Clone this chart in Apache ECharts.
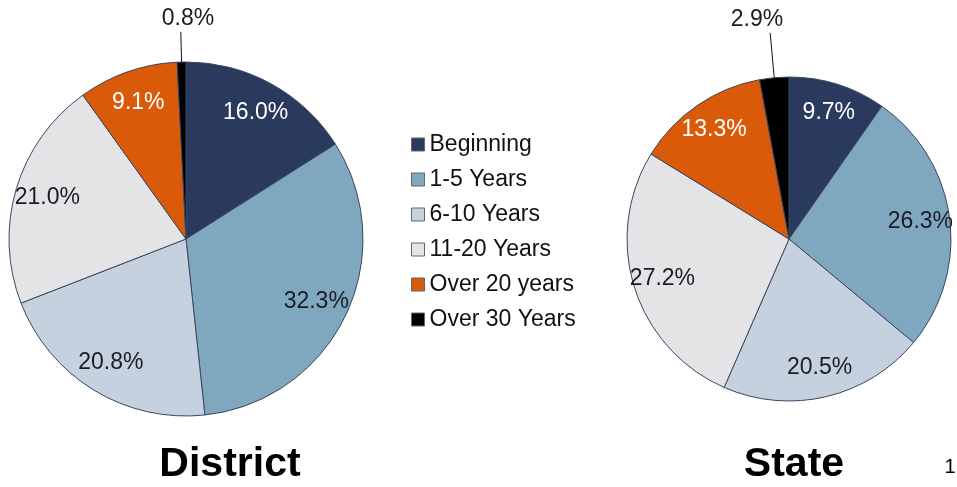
<!DOCTYPE html>
<html>
<head>
<meta charset="utf-8">
<script src="https://cdn.jsdelivr.net/npm/echarts@6/dist/echarts.min.js"></script>
<style>
    html, body { margin: 0; padding: 0; background: #fff; }
    #chart { width: 957px; height: 487px; }
</style>
</head>
<body>
<div id="chart"></div>
<script>
// categories and values
var categories = ['Beginning', '1-5 Years', '6-10 Years', '11-20 Years', 'Over 20 years', 'Over 30 Years'];
var districtValues = [16.0, 32.3, 20.8, 21.0, 9.1, 0.8];
var stateValues = [9.7, 26.3, 20.5, 27.2, 13.3, 2.9];

var colors = ['#2a3a5e', '#7fa8bf', '#c5d1de', '#e4e4e6', '#d95b0a', '#000000'];
var labelColors = ['#ffffff', '#1b1b24', '#1b1b24', '#1b1b24', '#ffffff', '#1b1b24'];
var FONT = '"Liberation Sans", Arial, sans-serif';

function pieData(values) {
    return categories.map(function (name, i) {
        return { name: name, value: values[i] };
    });
}

// visible pie; small slices get their label outside, above a leader line
function pieSeries(values, center, radius, lineLen, textAlign, textDx) {
    return {
        type: 'pie',
        center: center,
        radius: radius,
        startAngle: 90,
        clockwise: true,
        animation: false,
        data: pieData(values).map(function (d) {
            var small = d.value < 5;
            return {
                name: d.name,
                value: d.value,
                label: { show: small },
                labelLine: { show: small }
            };
        }),
        itemStyle: { borderColor: '#3a4660', borderWidth: 1 },
        label: {
            position: 'outside',
            formatter: function (p) { return p.value.toFixed(1) + '%'; },
            color: '#1b1b24',
            fontSize: 23,
            fontFamily: FONT
        },
        labelLine: {
            length: lineLen,
            length2: 0,
            lineStyle: { color: '#111', width: 1 }
        },
        labelLayout: function () {
            return { align: textAlign, verticalAlign: 'bottom', dx: textDx, dy: -2 };
        },
        emphasis: { disabled: true }
    };
}

// transparent ring on top so inside labels sit near the rim
function labelSeries(values, center, radius) {
    return {
        type: 'pie',
        center: center,
        radius: [radius * 0.6, radius],
        startAngle: 90,
        clockwise: true,
        animation: false,
        silent: true,
        data: pieData(values).map(function (d, i) {
            return {
                name: d.name,
                value: d.value,
                label: { show: d.value >= 5, color: labelColors[i] }
            };
        }),
        itemStyle: { color: 'rgba(0,0,0,0)', borderWidth: 0 },
        label: {
            position: 'inside',
            formatter: function (p) { return p.value.toFixed(1) + '%'; },
            fontSize: 23,
            fontFamily: FONT
        },
        labelLine: { show: false },
        emphasis: { disabled: true }
    };
}

var chart = echarts.init(document.getElementById('chart'));
chart.setOption({
    color: colors,
    backgroundColor: '#fff',
    legend: {
        orient: 'vertical',
        left: 406,
        top: 128,
        itemWidth: 13,
        itemHeight: 13,
        itemGap: 12,
        icon: 'rect',
        selectedMode: false,
        data: categories,
        itemStyle: { borderColor: '#666', borderWidth: 1 },
        textStyle: { fontSize: 23, fontFamily: FONT, color: '#111', padding: [0, 0, 0, 0] }
    },
    series: [
        pieSeries(districtValues, [186, 239], 177, 30, 'left', -14),
        labelSeries(districtValues, [186, 239], 177),
        pieSeries(stateValues, [789, 239], 162, 45, 'right', 18),
        labelSeries(stateValues, [789, 239], 162)
    ],
    graphic: [
        { type: 'text', x: 230, y: 465, style: { text: 'District', font: 'bold 41px ' + FONT, fill: '#000', align: 'center', verticalAlign: 'middle' } },
        { type: 'text', x: 794, y: 465, style: { text: 'State', font: 'bold 41px ' + FONT, fill: '#000', align: 'center', verticalAlign: 'middle' } },
        { type: 'text', x: 950, y: 467, style: { text: '1', font: '20px ' + FONT, fill: '#000', align: 'center', verticalAlign: 'middle' } }
    ]
});
</script>
</body>
</html>
